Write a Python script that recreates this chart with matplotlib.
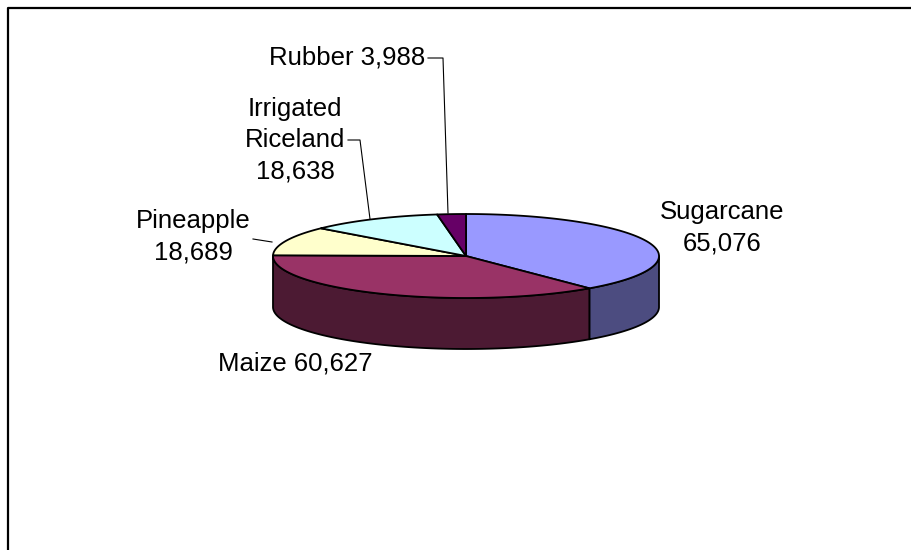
import numpy as np
import matplotlib
matplotlib.use("Agg")
from matplotlib import pyplot as plt
from matplotlib.patches import Polygon

plt.rcParams["font.family"] = ["Liberation Sans", "DejaVu Sans"]

# data
crops = ["Sugarcane", "Maize", "Pineapple", "Irrigated Riceland", "Rubber"]
areas = [65076, 60627, 18689, 18638, 3988]
top_colors = ["#9999FF", "#993366", "#FFFFCC", "#CCFFFF", "#660066"]
side_colors = ["#4C4C80", "#4C1A33", "#80805F", "#5F8080", "#330033"]

# pie geometry (pixels, y down)
cx, cy = 466, 256
rx, ry = 193, 42
depth = 51

fig = plt.figure(figsize=(9.12, 5.5), dpi=100)
ax = fig.add_axes([0, 0, 1, 1])
ax.set_xlim(0, 912)
ax.set_ylim(550, 0)
ax.axis("off")

# frame (only top and left show)
ax.plot([8, 8, 912], [550, 8, 8], color="black", lw=1.6, solid_capstyle="butt")

total = sum(areas)
bounds = [90.0]
for a in areas:
    bounds.append(bounds[-1] - a / total * 360.0)


def ell(t, dy=0.0):
    t = np.radians(t)
    return np.column_stack([cx + rx * np.cos(t), cy - ry * np.sin(t) + dy])


# side walls: front half only (angles between -180 and 0)
for i in range(len(areas)):
    a0, a1 = bounds[i], bounds[i + 1]
    lo, hi = max(min(a0, a1), -180.0), min(max(a0, a1), 0.0)
    if hi - lo <= 0:
        continue
    t = np.linspace(hi, lo, 120)
    pts = np.vstack([ell(t), ell(t[::-1], depth)])
    ax.add_patch(Polygon(pts, closed=True, fc=side_colors[i], ec="black", lw=1.3, joinstyle="round"))

# top faces
for i in range(len(areas)):
    t = np.linspace(bounds[i], bounds[i + 1], 200)
    pts = np.vstack([[cx, cy], ell(t)])
    ax.add_patch(Polygon(pts, closed=True, fc=top_colors[i], ec="black", lw=1.3, joinstyle="round"))

fs = 18.5
kw = dict(fontsize=fs, color="black", ha="center", va="center", linespacing=1.38)
ax.text(722, 228, f"{crops[0]}\n{areas[0]:,}", **kw)
ax.text(295, 363, f"{crops[1]} {areas[1]:,}", **kw)
ax.text(193, 237, f"{crops[2]}\n{areas[2]:,}", **kw)
ax.text(295, 140, f"Irrigated\nRiceland\n{areas[3]:,}", **kw)
ax.text(347, 58, f"{crops[4]} {areas[4]:,}", **kw)

# leader lines
lk = dict(color="black", lw=0.8)
ax.plot([253, 272], [239, 242], **lk)
ax.plot([348, 360, 370], [140, 140, 219], **lk)
ax.plot([428, 443, 448], [58, 58, 213], **lk)

fig.savefig("out.png", dpi=100)
